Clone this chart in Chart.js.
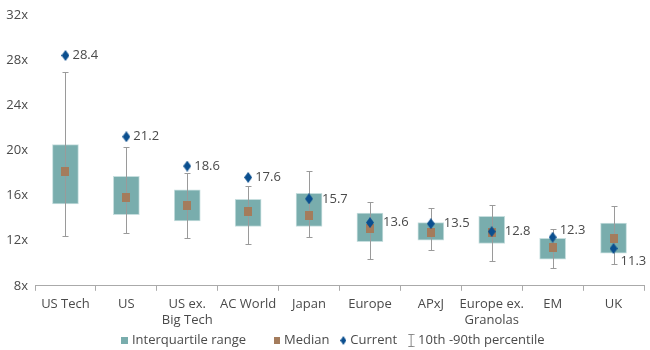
<!DOCTYPE html>
<html>
<head>
<meta charset="utf-8">
<script src="https://cdn.jsdelivr.net/npm/chart.js@4.4.1/dist/chart.umd.min.js"></script>
<style>
  html, body { margin: 0; padding: 0; background: #fff; }
  #wrap { width: 650px; height: 350px; position: relative; }
</style>
</head>
<body>
<div id="wrap"><canvas id="chart"></canvas></div>
<script>
// P/E valuation ranges by region — box = IQR, whiskers = 10th/90th pct.
const categories = ['US Tech', 'US', ['US ex.', 'Big Tech'], 'AC World', 'Japan', 'Europe', 'APxJ', ['Europe ex.', 'Granolas'], 'EM', 'UK'];
const q1      = [15.25, 14.3, 13.75, 13.25, 13.25, 11.9, 12.05, 11.75, 10.35, 10.9];
const q3      = [20.5, 17.7, 16.5, 15.65, 16.2, 14.45, 13.6, 14.15, 12.2, 13.55];
const median  = [18.1, 15.8, 15.1, 14.6, 14.2, 13.1, 12.7, 12.7, 11.4, 12.2];
const p10     = [12.4, 12.7, 12.2, 11.7, 12.3, 10.4, 11.2, 10.2, 9.6, 9.9];
const p90     = [26.9, 20.3, 18.0, 16.8, 18.2, 15.4, 14.9, 15.2, 13.0, 15.05];
const current = [28.4, 21.2, 18.6, 17.6, 15.7, 13.6, 13.5, 12.8, 12.3, 11.3];
const yTicks  = [8, 12, 16, 20, 24, 28, 32];

const TEAL = '#79adad';
const BROWN = '#a47c5c';
const NAVY = '#0b4f8f';
const WHISKER = '#9a9a9a';
const TEXT = '#4a4a4a';
const FONT = "'Open Sans', Roboto, sans-serif";

// small canvases used as point styles
function glyph(w, h, draw) {
  const c = document.createElement('canvas');
  c.width = w; c.height = h;
  draw(c.getContext('2d'), w, h);
  return c;
}
const diamond = (w, h) => glyph(w, h, (g) => {
  g.fillStyle = NAVY;
  g.beginPath();
  g.moveTo(w / 2, 0); g.lineTo(w, h / 2); g.lineTo(w / 2, h); g.lineTo(0, h / 2);
  g.closePath(); g.fill();
});
const block = (w, h, col) => glyph(w, h, (g) => { g.fillStyle = col; g.fillRect(0, 0, w, h); });
const ibeam = glyph(7, 13, (g) => {
  g.strokeStyle = '#888'; g.lineWidth = 1;
  g.beginPath();
  g.moveTo(0.5, 0.5); g.lineTo(6.5, 0.5);
  g.moveTo(3.5, 0.5); g.lineTo(3.5, 12.5);
  g.moveTo(0.5, 12.5); g.lineTo(6.5, 12.5);
  g.stroke();
});

// label nudges where the value would collide with the box or the edge
const labelNudge = { 8: { dx: 7, dy: -7 }, 9: { dx: 7, dy: 13 } };

const whiskerPlugin = {
  id: 'whiskers',
  afterLayout(chart) {
    // centre the legend under the plot rather than the whole canvas
    const lg = chart.legend;
    lg.left = chart.chartArea.left - 10;
    lg.right = chart.chartArea.right;
  },
  afterDatasetDraw(chart, args) {
    if (args.index !== 2) return;
    const { ctx, scales: { x, y } } = chart;
    ctx.save();
    ctx.strokeStyle = WHISKER;
    ctx.lineWidth = 1;
    categories.forEach((_, i) => {
      const px = Math.round(x.getPixelForValue(i)) + 0.5;
      const top = Math.round(y.getPixelForValue(p90[i])) + 0.5;
      const bot = Math.round(y.getPixelForValue(p10[i])) + 0.5;
      ctx.beginPath();
      ctx.moveTo(px, top); ctx.lineTo(px, bot);
      ctx.moveTo(px - 3, top); ctx.lineTo(px + 3, top);
      ctx.moveTo(px - 3, bot); ctx.lineTo(px + 3, bot);
      ctx.stroke();
    });
    ctx.restore();
  },
  afterDatasetsDraw(chart) {
    const { ctx, scales: { x, y } } = chart;
    ctx.save();
    ctx.font = `13px ${FONT}`;
    ctx.fillStyle = TEXT;
    ctx.textAlign = 'left';
    ctx.textBaseline = 'middle';
    current.forEach((v, i) => {
      const inside = v >= q1[i] && v <= q3[i];
      const n = labelNudge[i] || { dx: inside ? 13 : 7, dy: 0 };
      ctx.fillText(v.toFixed(1), x.getPixelForValue(i) + n.dx, y.getPixelForValue(v) + n.dy);
    });
    ctx.restore();
  },
};

// trailing spaces widen the gaps the way the original legend does
const legendItems = [
  { text: 'Interquartile range         ', pointStyle: block(7, 7, TEAL) },
  { text: 'Median    ', pointStyle: block(6, 7, BROWN) },
  { text: 'Current    ', pointStyle: diamond(6, 9) },
  { text: '10th -90th percentile', pointStyle: ibeam },
];

new Chart(document.getElementById('chart'), {
  type: 'bar',
  data: {
    labels: categories,
    datasets: [
      {
        type: 'line', label: 'Current', data: current, showLine: false,
        pointStyle: diamond(8, 11), pointRadius: 5, order: 0,
      },
      {
        type: 'line', label: 'Median', data: median, showLine: false,
        pointStyle: block(8, 9, BROWN), pointRadius: 5, order: 1,
      },
      {
        type: 'bar', label: 'Interquartile range',
        data: q1.map((v, i) => [v, q3[i]]),
        backgroundColor: TEAL, borderColor: '#c6dede', borderWidth: 1,
        borderSkipped: false, barThickness: 26, order: 3,
      },
    ],
  },
  options: {
    responsive: true,
    maintainAspectRatio: false,
    animation: false,
    layout: { padding: { top: -2, right: 3, bottom: -7, left: 0 } },
    plugins: {
      tooltip: { enabled: false },
      legend: {
        position: 'bottom',
        onClick: null,
        labels: {
          usePointStyle: true,
          boxWidth: 1,
          boxHeight: 8,
          padding: 0,
          color: TEXT,
          font: { family: FONT, size: 13 },
          generateLabels: () => legendItems.map((it) => ({
            text: it.text, pointStyle: it.pointStyle, fillStyle: 'transparent',
            strokeStyle: 'transparent', lineWidth: 0, hidden: false, fontColor: TEXT,
          })),
        },
      },
    },
    scales: {
      x: {
        offset: true,
        grid: { display: true, drawOnChartArea: false, drawTicks: true, tickLength: 5, color: '#aaa', offset: true },
        border: { color: '#aaa' },
        ticks: { color: TEXT, font: { family: FONT, size: 13 }, padding: 6, maxRotation: 0, autoSkip: false },
      },
      y: {
        min: yTicks[0],
        max: yTicks[yTicks.length - 1],
        afterBuildTicks: (axis) => { axis.ticks = yTicks.map((v) => ({ value: v })); },
        afterFit: (axis) => { axis.width = 35; },
        grid: { display: false, drawTicks: false },
        border: { display: false },
        ticks: { color: TEXT, font: { family: FONT, size: 13 }, padding: 7, callback: (v) => v + 'x' },
      },
    },
  },
  plugins: [whiskerPlugin],
});
</script>
</body>
</html>
